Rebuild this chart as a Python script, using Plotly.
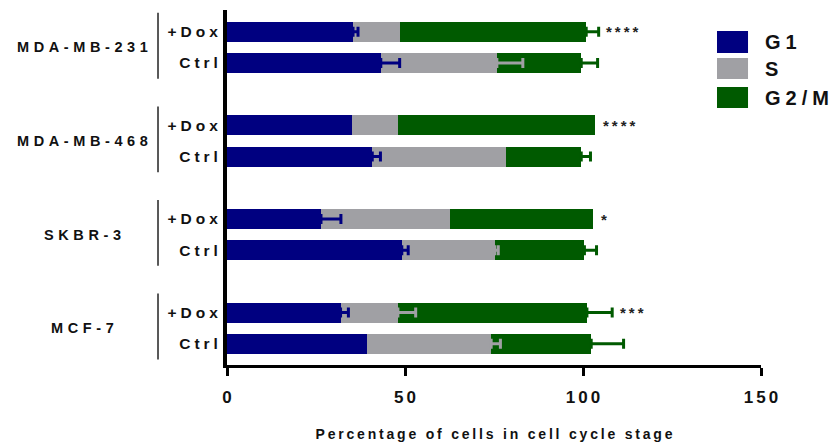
import plotly.graph_objects as go

# Cell lines and treatment conditions
cell_lines = ["MDA-MB-231", "MDA-MB-468", "SKBR-3", "MCF-7"]
conditions = ["+Dox", "Ctrl"]

# Mean percentage of cells per phase, ordered (line, condition)
g1_mean = [35.4, 43.2, 35.2, 40.8, 26.4, 49.1, 31.9, 39.2]
s_mean = [13.1, 32.6, 12.9, 37.6, 36.3, 26.1, 16.1, 35.0]
g2m_mean = [52.4, 23.7, 55.3, 21.1, 40.2, 25.2, 53.1, 28.1]

# Upper error (SEM), 0 = not shown
g1_err = [1.4, 5.3, 0, 2.3, 5.6, 1.8, 2.2, 0]
s_err = [0, 7.3, 0, 0, 0, 1.0, 5.0, 2.6]
g2m_err = [3.5, 4.6, 0, 2.6, 0, 3.4, 7.1, 9.1]

# Significance of +Dox vs Ctrl for each line
significance = ["****", "****", "*", "***"]

phase_names = ["G1", "S", "G2/M"]
phase_colors = ["#000080", "#a0a0a4", "#005a00"]

FONT = "Liberation Sans, Arial, sans-serif"


def spaced(text, px):
    # letter-spaced text without trailing space after the last character
    if len(text) < 2:
        return text
    return f'<span style="letter-spacing:{px}px">{text[:-1]}</span>{text[-1]}'


# Row positions: two rows per cell line, one empty slot between groups
rows = []
for g, _ in enumerate(cell_lines):
    for c, _ in enumerate(conditions):
        rows.append(3 * g + c)

means = [g1_mean, s_mean, g2m_mean]
errs = [g1_err, s_err, g2m_err]

fig = go.Figure()

# Stacked horizontal bars
for name, color, vals in zip(phase_names, phase_colors, means):
    fig.add_trace(go.Bar(
        x=vals, y=rows, orientation="h", name=name,
        marker=dict(color=color, line=dict(width=0)),
        width=0.64, showlegend=False,
    ))

# Upper error bars at the end of each stacked segment
cum = [0.0] * len(rows)
for name, color, vals, err in zip(phase_names, phase_colors, means, errs):
    ends = [c + v for c, v in zip(cum, vals)]
    cum = ends
    xs = [e for e, s in zip(ends, err) if s > 0]
    ys = [r for r, s in zip(rows, err) if s > 0]
    es = [s for s in err if s > 0]
    fig.add_trace(go.Scatter(
        x=xs, y=ys, mode="markers",
        marker=dict(size=1, opacity=0),
        error_x=dict(type="data", array=es, arrayminus=[0] * len(es),
                     symmetric=False, color=color, thickness=3, width=5),
        showlegend=False, hoverinfo="skip",
    ))

annotations = []
shapes = []

# Cell line group labels and brackets
for g, line in enumerate(cell_lines):
    annotations.append(dict(
        x=-0.2715, y=3 * g + 0.5, xref="paper", yref="y",
        text=spaced(line, 4.6), showarrow=False, xanchor="center", yanchor="middle",
        font=dict(family=FONT, size=14.5, color="#111111", weight="bold"),
    ))
    shapes.append(dict(
        type="line", xref="paper", yref="y",
        x0=-0.1292, x1=-0.1292, y0=3 * g - 0.61, y1=3 * g + 1.5,
        line=dict(color="#222222", width=1.5),
    ))

# Significance stars beside the +Dox row
for g, sig in enumerate(significance):
    r = 3 * g
    idx = 2 * g
    end = g1_mean[idx] + s_mean[idx] + g2m_mean[idx]
    top = end + g2m_err[idx]
    annotations.append(dict(
        x=top + 1.6, y=r, xref="x", yref="y",
        text=spaced(sig, 3), showarrow=False, xanchor="left", yanchor="middle",
        font=dict(family=FONT, size=15, color="#222222", weight="bold"),
    ))

# Legend drawn as swatches
legend_y = [(0.9408, 0.8789), (0.8648, 0.8056), (0.7831, 0.7239)]
for name, color, (y1, y0) in zip(phase_names, phase_colors, legend_y):
    shapes.append(dict(
        type="rect", xref="paper", yref="paper",
        x0=0.9176, x1=0.9757, y0=y0, y1=y1,
        fillcolor=color, line=dict(width=0),
    ))
    annotations.append(dict(
        x=1.0037, y=(y0 + y1) / 2, xref="paper", yref="paper",
        text=spaced(name, 5), showarrow=False, xanchor="left", yanchor="middle",
        font=dict(family=FONT, size=20, color="#111111", weight="bold"),
    ))

fig.update_layout(
    width=834, height=442,
    margin=dict(l=227, r=73, t=10, b=77, autoexpand=False),
    plot_bgcolor="white", paper_bgcolor="white",
    barmode="stack",
    annotations=annotations,
    shapes=shapes,
    showlegend=False,
    xaxis=dict(
        range=[0, 150], tickvals=[0, 50, 100, 150],
        ticktext=[spaced(str(v), 3) for v in [0, 50, 100, 150]],
        showline=True, linecolor="black", linewidth=3,
        ticks="outside", ticklen=8, tickwidth=3, tickcolor="black",
        showgrid=False, zeroline=False, automargin=False,
        tickfont=dict(family=FONT, size=17, color="#111111", weight="bold"),
        ticklabelstandoff=7,
        title=dict(text=spaced("Percentage of cells in cell cycle stage", 2.8),
                   font=dict(family=FONT, size=14, color="#111111", weight="bold"),
                   standoff=23),
    ),
    yaxis=dict(
        range=[10.68, -0.7],
        tickvals=rows,
        ticktext=[spaced(c, 4) for _ in cell_lines for c in conditions],
        showline=True, linecolor="black", linewidth=4,
        ticks="", showgrid=False, zeroline=False, automargin=False,
        tickfont=dict(family=FONT, size=15.5, color="#111111", weight="bold"),
        ticklabelstandoff=2,
    ),
)

fig.write_html("out.html")
